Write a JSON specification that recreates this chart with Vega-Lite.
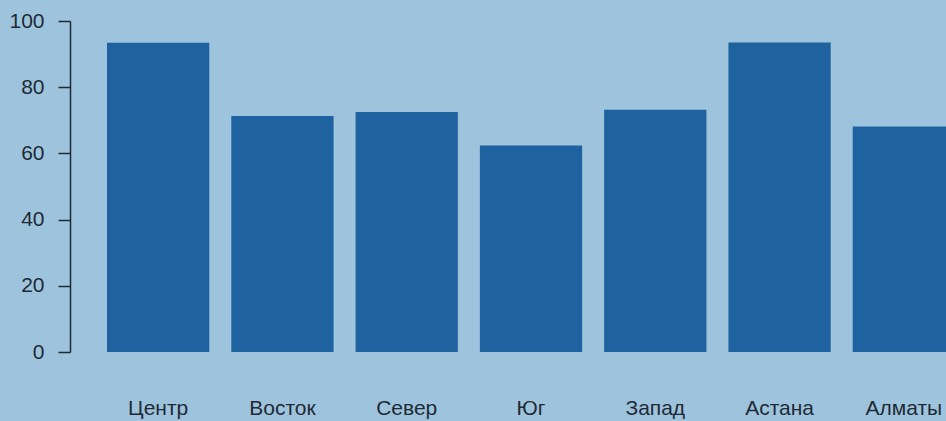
{
  "$schema": "https://vega.github.io/schema/vega-lite/v6.json",
  "autosize": {"type": "none"},
  "width": 876,
  "height": 331,
  "padding": {"left": 70, "top": 21, "right": 0, "bottom": 69},
  "background": "#9ec4dd",
  "config": {
    "view": {"stroke": null},
    "font": "Liberation Sans",
    "axis": {"labelFont": "Liberation Sans", "labelColor": "#1e2a36", "grid": false}
  },
  "data": {
    "values": [
      {"region": "Центр", "value": 93.4},
      {"region": "Восток", "value": 71.3},
      {"region": "Север", "value": 72.5},
      {"region": "Юг", "value": 62.4},
      {"region": "Запад", "value": 73.2},
      {"region": "Астана", "value": 93.5},
      {"region": "Алматы", "value": 68.1}
    ]
  },
  "mark": {"type": "bar", "color": "#1f62a0", "clip": true},
  "encoding": {
    "x": {
      "field": "region",
      "type": "nominal",
      "sort": null,
      "scale": {"range": [37, 885], "paddingInner": 0.177, "paddingOuter": 0},
      "axis": {
        "title": null,
        "domain": false,
        "ticks": false,
        "tickSize": 0,
        "labelAngle": 0,
        "labelFontSize": 21,
        "labelBaseline": "alphabetic",
        "labelPadding": 62
      }
    },
    "y": {
      "field": "value",
      "type": "quantitative",
      "scale": {"domain": [0, 100], "nice": false},
      "axis": {
        "title": null,
        "values": [0, 20, 40, 60, 80, 100],
        "domainColor": "#1e2a36",
        "domainWidth": 1.5,
        "tickColor": "#1e2a36",
        "tickWidth": 1.5,
        "tickSize": 12,
        "labelPadding": 14,
        "labelFontSize": 21,
        "labelBaseline": "middle"
      }
    }
  }
}
